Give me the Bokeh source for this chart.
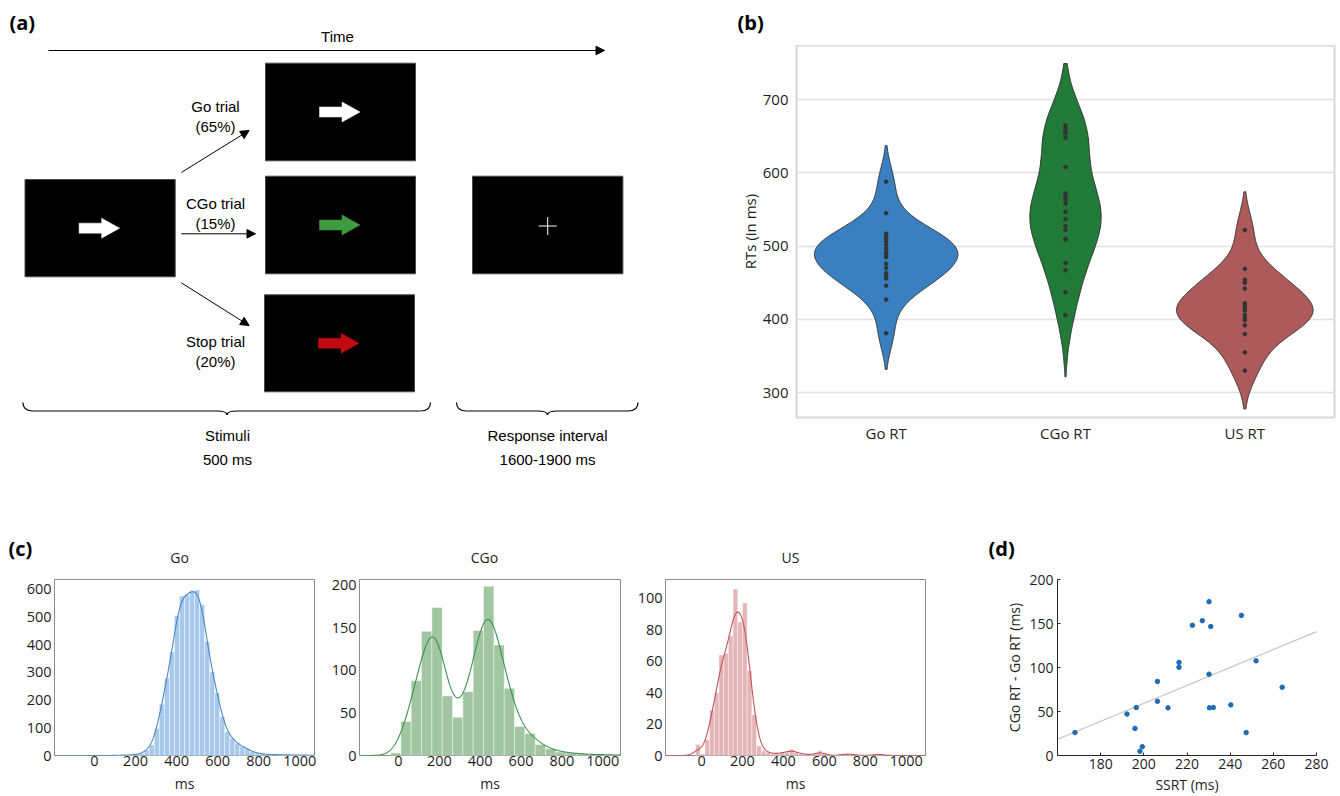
import numpy as np
from bokeh.plotting import figure
from bokeh.layouts import row, column
from bokeh.models import Range1d, FixedTicker, Arrow, NormalHead, LinearAxis
from bokeh.embed import file_html
from bokeh.resources import INLINE
from bokeh.core.properties import value

# ---------------- data ----------------
# (a) task schematic texts
trial_labels = ["Go trial", "(65%)", "CGo trial", "(15%)", "Stop trial", "(20%)"]
phase_labels = ["Stimuli", "500 ms", "Response interval", "1600-1900 ms"]
panel_letters = ["(a)", "(b)", "(c)", "(d)"]

# (b) individual mean RTs (ms)
violin_categories = ["Go RT", "CGo RT", "US RT"]
go_rt = [588, 545, 517, 513, 510, 506, 502, 497, 492, 489, 485, 476, 470, 463, 460, 456, 446, 427, 381]
cgo_rt = [665, 661, 657, 654, 648, 608, 572, 567, 563, 558, 547, 537, 527, 522, 510, 509, 477, 467, 437, 406]
us_rt = [522, 469, 454, 450, 442, 422, 419, 416, 412, 406, 402, 399, 392, 380, 355, 330]
rt_ticks = [300, 400, 500, 600, 700]

# (c) RT histograms (bin start, bin width, counts)
go_bin_start, go_bin_width = 95.5, 24.5
go_counts = [1, 1, 2, 2, 4, 8, 20, 38, 98, 185, 279, 374, 506, 576, 582, 596, 598, 545, 412, 302,
             226, 140, 86, 62, 45, 33, 24, 14, 9, 6, 4, 3, 3, 3, 2, 2, 2, 2, 1, 1]
cgo_bin_start, cgo_bin_width = -39.0, 50.6
cgo_counts = [3, 40, 88, 146, 174, 70, 45, 75, 147, 199, 130, 79, 34, 26, 13, 8, 4, 3, 2, 1, 1, 1]
us_bin_start, us_bin_width = -29.0, 22.9
us_counts = [7, 1, 10, 29, 40, 64, 65, 76, 106, 85, 97, 54, 26, 6, 3, 2, 1, 1, 2, 2,
             4, 2, 1, 1, 0, 1, 3, 1, 0, 0, 0, 1, 1, 1, 0, 0, 0, 0, 1, 1]
hist_x_ticks = [0, 200, 400, 600, 800, 1000]
go_y_ticks = [0, 100, 200, 300, 400, 500, 600]
cgo_y_ticks = [0, 50, 100, 150, 200]
us_y_ticks = [0, 20, 40, 60, 80, 100]
hist_titles = ["Go", "CGo", "US"]

# (d) SSRT vs CGo-Go difference
ssrt = [168.1, 192.2, 195.9, 196.5, 198.2, 199.3, 206.3, 206.3, 211.2, 216.3, 216.3, 222.5,
        227.1, 230.2, 231.0, 230.2, 230.4, 232.2, 240.3, 245.2, 247.4, 252.0, 264.1]
cgo_minus_go = [26.0, 47.1, 30.8, 54.5, 4.8, 10.0, 84.2, 61.6, 54.2, 105.8, 100.2, 148.0,
                153.2, 174.8, 146.6, 92.4, 54.2, 54.5, 57.5, 159.2, 26.0, 107.6, 77.6]
ssrt_ticks = [180, 200, 220, 240, 260, 280]
diff_ticks = [0, 50, 100, 150, 200]

TICK_FONT = "Open Sans"
DIAG_FONT = "Liberation Sans"
INK = "#1e1e1e"

ROW1_TOP = 45      # strip above row 1
ROW1_H = 425
MID_H = 96         # strip between rows
ROW2_H = 230


def plain_axes(p, size="15px", standoff=2):
    for ax in (p.xaxis, p.yaxis):
        ax.axis_line_color = None
        ax.major_tick_line_color = None
        ax.minor_tick_line_color = None
        ax.major_tick_out = 0
        ax.major_tick_in = 0
        ax.minor_tick_out = 0
        ax.minor_tick_in = 0
        ax.major_label_text_font = TICK_FONT
        ax.major_label_text_font_size = size
        ax.major_label_text_color = INK
        ax.major_label_standoff = standoff
        ax.axis_label_text_font = TICK_FONT
        ax.axis_label_text_font_style = "normal"
        ax.axis_label_text_color = INK


def strip(height, y0):
    s = figure(width=1340, height=height, x_range=Range1d(0, 1340), y_range=Range1d(y0 + height, y0),
               x_axis_type=None, y_axis_type=None, output_backend="svg", toolbar_location=None,
               min_border=0)
    s.outline_line_color = None
    s.grid.visible = False
    return s


# ---------------- top strip: (a), Time, (b) ----------------
st = strip(ROW1_TOP, 0)
st.text(x=[9, 737], y=[22, 22], text=[panel_letters[0], panel_letters[1]], text_align="left",
        text_baseline="middle", text_font=value(TICK_FONT), text_font_style="bold",
        text_font_size="20px", text_color="black")
st.text(x=[337], y=[36], text=["Time"], text_align="center", text_baseline="middle",
        text_font=value(DIAG_FONT), text_font_size="15px", text_color="black")

# ---------------- panel (a) ----------------
fa = figure(width=640, height=ROW1_H, x_range=Range1d(0, 640), y_range=Range1d(417, ROW1_TOP),
            y_axis_type=None, output_backend="svg", toolbar_location=None,
            min_border_left=0, min_border_right=0, min_border_top=0, min_border_bottom=53)
fa.outline_line_color = None
fa.grid.visible = False

box_left = [24.5, 265, 265, 264, 472]
box_right = [174.7, 415, 415, 414, 622.4]
box_top = [179, 62.7, 175.7, 294.3, 175.7]
box_bottom = [276.3, 160.3, 273.3, 391.3, 273.3]
fa.quad(left=box_left, right=box_right, top=box_top, bottom=box_bottom,
        fill_color="black", line_color="#4a4a4a", line_width=1)

arrow_colors = ["white", "white", "#3f9b40", "#c10a10"]
for i, col in enumerate(arrow_colors):
    cx = (box_left[i] + box_right[i]) / 2
    cy = (box_top[i] + box_bottom[i]) / 2
    xs = [cx - 21, cx + 1.5, cx + 1.5, cx + 19.5, cx + 1.5, cx + 1.5, cx - 21]
    ys = [cy - 5, cy - 5, cy - 10, cy, cy + 10, cy + 5, cy + 5]
    fa.patch(xs, ys, fill_color=col, line_color=col, line_width=0.5)

fcx = (box_left[4] + box_right[4]) / 2
fcy = (box_top[4] + box_bottom[4]) / 2 + 1
fa.segment(x0=[fcx - 9, fcx], y0=[fcy, fcy - 9], x1=[fcx + 9, fcx], y1=[fcy, fcy + 9],
           line_color="white", line_width=1)

arrows = [(48, 50, 604, 50), (180.8, 172, 248.6, 130), (180.8, 233.3, 255, 233.3),
          (180.8, 282.3, 248.6, 325)]
for (xs_, ys_, xe_, ye_) in arrows:
    fa.add_layout(Arrow(end=NormalHead(size=8.5, fill_color="black", line_color="black", line_width=1),
                        x_start=xs_, y_start=ys_, x_end=xe_, y_end=ye_,
                        line_color="black", line_width=1))

fa.text(x=[215] * 6, y=[105.5, 125.7, 203, 222.7, 341, 361], text=trial_labels,
        text_align="center", text_baseline="middle",
        text_font=value(DIAG_FONT), text_font_size="15px", text_color="black")


def brace(p, x0, x1, xm, y_end=402, y_mid=410.5, y_tip=414.5, r=10):
    p.quadratic(x0=[x0, xm - r, xm, x1 - r], y0=[y_end, y_mid, y_tip, y_mid],
                x1=[x0 + r, xm, xm + r, x1], y1=[y_mid, y_tip, y_mid, y_end],
                cx=[x0, xm, xm, x1], cy=[y_mid, y_mid, y_mid, y_mid],
                line_color="black", line_width=1.2)
    p.segment(x0=[x0 + r, xm + r], y0=[y_mid, y_mid], x1=[xm - r, x1 - r], y1=[y_mid, y_mid],
              line_color="black", line_width=1.2)


brace(fa, 22.4, 430, 226.5)
brace(fa, 456, 637.5, 547)

# phase captions as two stacked bottom axes
phase_x = [227, 547]
axes_a = [fa.xaxis[0], LinearAxis()]
fa.add_layout(axes_a[1], "below")
for k, ax in enumerate(axes_a):
    ax.ticker = FixedTicker(ticks=phase_x)
    ax.major_label_overrides = {phase_x[0]: phase_labels[k], phase_x[1]: phase_labels[k + 2]}
    ax.axis_line_color = None
    ax.major_tick_line_color = None
    ax.minor_tick_line_color = None
    ax.major_tick_out = 0
    ax.major_tick_in = 0
    ax.minor_tick_out = 0
    ax.minor_tick_in = 0
    ax.major_label_text_font = DIAG_FONT
    ax.major_label_text_font_size = "15px"
    ax.major_label_text_color = "black"
axes_a[0].major_label_standoff = 9
axes_a[1].major_label_standoff = 4

# ---------------- panel (b) ----------------
fb = figure(width=700, height=ROW1_H, x_range=Range1d(-0.5, 2.5), y_range=Range1d(266, 774),
            output_backend="svg", toolbar_location=None,
            min_border_left=156, min_border_right=6, min_border_top=0, min_border_bottom=53)
fb.outline_line_color = "#d8d8d8"
fb.outline_line_width = 2
fb.xgrid.visible = False
plain_axes(fb, "15px", 8)
fb.xaxis.major_label_standoff = 5
fb.yaxis.ticker = FixedTicker(ticks=rt_ticks)
fb.ygrid.ticker = fb.yaxis.ticker
fb.ygrid.grid_line_color = "#e0e0e0"
fb.ygrid.grid_line_width = 1.5
fb.xaxis.ticker = FixedTicker(ticks=[0, 1, 2])
fb.xaxis.major_label_overrides = {i: c for i, c in enumerate(violin_categories)}
fb.yaxis.axis_label = "RTs (in ms)"
fb.yaxis.axis_label_text_font_size = "15px"
fb.yaxis.axis_label_standoff = 0

violin_data = [go_rt, cgo_rt, us_rt]
violin_fill = ["#3a80c1", "#217a38", "#ad5a5b"]
profiles = []
for d in violin_data:
    a = np.asarray(d, dtype=float)
    bw = a.std(ddof=1) * len(a) ** (-1 / 5)
    grid = np.linspace(a.min() - 2 * bw, a.max() + 2 * bw, 300)
    dens = np.exp(-0.5 * ((grid[:, None] - a[None, :]) / bw) ** 2).sum(axis=1) / (len(a) * bw * np.sqrt(2 * np.pi))
    profiles.append((grid, dens))
dmax = max(pr[1].max() for pr in profiles)
for i, (grid, dens) in enumerate(profiles):
    hw = dens / dmax * 0.4
    xs = np.concatenate([i + hw, (i - hw)[::-1]])
    ys = np.concatenate([grid, grid[::-1]])
    fb.patch(xs, ys, fill_color=violin_fill[i], line_color="#333333", line_width=1)
    fb.scatter(x=[i] * len(violin_data[i]), y=violin_data[i], size=3.6, color="#333333")

# ---------------- middle strip: (c), titles, (d) ----------------
y_mid0 = ROW1_TOP + ROW1_H
sm = strip(MID_H, y_mid0)
sm.text(x=[8, 988], y=[548, 548], text=[panel_letters[2], panel_letters[3]], text_align="left",
        text_baseline="middle", text_font=value(TICK_FONT), text_font_style="bold",
        text_font_size="20px", text_color="black")
sm.text(x=[179, 484, 790], y=[557, 557, 557], text=hist_titles, text_align="center",
        text_baseline="middle", text_font=value(TICK_FONT), text_font_size="14px", text_color=INK)

# ---------------- panel (c) ----------------


def hist_panel(width, bl, br, xr, ymax, yticks, counts, start, binw, fill, line, kde_bw):
    p = figure(width=width, height=ROW2_H, x_range=Range1d(*xr), y_range=Range1d(0, ymax),
               output_backend="svg", toolbar_location=None,
               min_border_left=bl, min_border_right=br, min_border_top=13, min_border_bottom=39)
    p.grid.visible = False
    p.outline_line_color = "#8c8c8c"
    p.outline_line_width = 1
    plain_axes(p, "14.5px", 0)
    p.yaxis.major_label_standoff = 3
    p.xaxis.ticker = FixedTicker(ticks=hist_x_ticks)
    p.yaxis.ticker = FixedTicker(ticks=yticks)
    p.xaxis.axis_label = "ms"
    p.xaxis.axis_label_text_font_size = "14px"
    p.xaxis.axis_label_standoff = 5
    c = np.asarray(counts, dtype=float)
    edges = start + binw * np.arange(len(c))
    p.quad(left=edges, right=edges + binw, bottom=0, top=c, fill_color=fill,
           line_color="white", line_alpha=0.7, line_width=0.6)
    centers = edges + binw / 2
    xs = np.linspace(xr[0], xr[1], 700)
    kern = np.exp(-0.5 * ((xs[:, None] - centers[None, :]) / kde_bw) ** 2) / (kde_bw * np.sqrt(2 * np.pi))
    curve = (kern * c[None, :]).sum(axis=1) * binw
    p.line(xs, curve, line_color=line, line_width=1.1)
    return p


c1 = hist_panel(325, 54, 11, (-195, 1072), 636, go_y_ticks, go_counts, go_bin_start, go_bin_width,
                "#a7c9ec", "#4a87c6", 20)
c2 = hist_panel(309, 34, 14, (-191, 1087), 207, cgo_y_ticks, cgo_counts, cgo_bin_start, cgo_bin_width,
                "#a1c6a1", "#3d9150", 46)
c3 = hist_panel(326, 31, 35, (-176, 1094), 112, us_y_ticks, us_counts, us_bin_start, us_bin_width,
                "#e3b5b7", "#c4525a", 24)

# ---------------- panel (d) ----------------
fd = figure(width=380, height=ROW2_H, x_range=Range1d(160, 280), y_range=Range1d(0, 200),
            output_backend="svg", toolbar_location=None,
            min_border_left=97, min_border_right=24, min_border_top=13, min_border_bottom=39)
fd.grid.visible = False
fd.outline_line_color = None
for ax in (fd.xaxis, fd.yaxis):
    ax.axis_line_color = "#262626"
    ax.axis_line_width = 1
    ax.major_tick_line_color = "#262626"
    ax.major_tick_in = 3
    ax.major_tick_out = 0
    ax.minor_tick_line_color = None
    ax.minor_tick_out = 0
    ax.minor_tick_in = 0
    ax.major_label_text_font = TICK_FONT
    ax.major_label_text_font_size = "14px"
    ax.major_label_text_color = INK
    ax.axis_label_text_font = TICK_FONT
    ax.axis_label_text_font_size = "14px"
    ax.axis_label_text_font_style = "normal"
    ax.axis_label_text_color = INK
    ax.axis_label_standoff = 0
fd.xaxis.major_label_standoff = 3
fd.xaxis.axis_label_standoff = 3
fd.yaxis.major_label_standoff = 4
fd.yaxis.axis_label_standoff = 2
fd.xaxis.ticker = FixedTicker(ticks=ssrt_ticks)
fd.yaxis.ticker = FixedTicker(ticks=diff_ticks)
fd.xaxis.axis_label = "SSRT (ms)"
fd.yaxis.axis_label = "CGo RT - Go RT (ms)"
slope, intercept = np.polyfit(np.asarray(ssrt), np.asarray(cgo_minus_go), 1)
xl = np.array([fd.x_range.start, fd.x_range.end])
fd.line(xl, slope * xl + intercept, line_color="#c4c4c4", line_width=1.2)
fd.scatter(x=ssrt, y=cgo_minus_go, size=4.5, color="#1f6cb3")

layout = column(st, row(fa, fb), sm, row(c1, c2, c3, fd))
open("out.html", "w").write(file_html(layout, INLINE))
